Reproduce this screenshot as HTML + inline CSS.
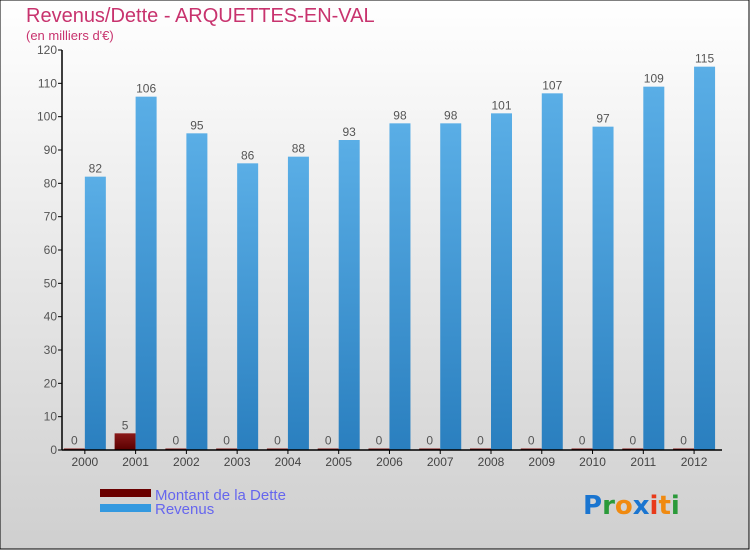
<!DOCTYPE html>
<html><head><meta charset="utf-8">
<style>
html,body{margin:0;padding:0}
body{width:750px;height:550px;overflow:hidden;font-family:"Liberation Sans","DejaVu Sans",sans-serif}
</style></head>
<body>
<svg id="chart" width="750" height="550" xmlns="http://www.w3.org/2000/svg">
<defs>
<linearGradient id="bg" x1="0" y1="0" x2="0" y2="1">
<stop offset="0" stop-color="#ffffff"/><stop offset="1" stop-color="#cfcfcf"/>
</linearGradient>
<linearGradient id="blue" x1="0" y1="0" x2="0" y2="1">
<stop offset="0" stop-color="#5aaee6"/><stop offset="1" stop-color="#2a7fbf"/>
</linearGradient>
<linearGradient id="red" x1="0" y1="0" x2="0" y2="1">
<stop offset="0" stop-color="#8a1a1a"/><stop offset="1" stop-color="#5a0000"/>
</linearGradient>
</defs>
<rect x="0" y="0" width="749" height="549" fill="url(#bg)" stroke="#000" stroke-width="1"/>
<text x="26" y="22" font-size="20" fill="#c8336e">Revenus/Dette - ARQUETTES-EN-VAL</text>
<text x="26" y="40" font-size="13" fill="#c8336e">(en milliers d'€)</text>
<g id="grid"></g>
<g id="bars"></g>
<g id="axes"></g>
<rect x="100" y="489" width="51" height="8" fill="#6a0000"/>
<text x="155" y="500" font-size="15" fill="#6666ee">Montant de la Dette</text>
<rect x="100" y="504" width="51" height="8" fill="#3399e0"/>
<text x="155" y="514" font-size="15" fill="#6666ee">Revenus</text>
<text x="583" y="514" font-size="26" font-family="DejaVu Sans, sans-serif" font-weight="bold"><tspan fill="#1a75d0">P</tspan><tspan fill="#2a9a3a">r</tspan><tspan fill="#f08a10">o</tspan><tspan fill="#1a75d0">x</tspan><tspan fill="#e83a1a">i</tspan><tspan fill="#f08a10">t</tspan><tspan fill="#2a9a3a">i</tspan></text>
</svg>
<script>
const years=["2000","2001","2002","2003","2004","2005","2006","2007","2008","2009","2010","2011","2012"];
const revenus=[82,106,95,86,88,93,98,98,101,107,97,109,115];
const dette=[0,5,0,0,0,0,0,0,0,0,0,0,0];
const yTicks=[0,10,20,30,40,50,60,70,80,90,100,110,120];
const NS="http://www.w3.org/2000/svg";
const x0=62,x1=722,yBase=450,yTop=50,yMax=120;
const band=(x1-x0)/years.length;
function y(v){return yBase-(v/yMax)*(yBase-yTop);}
function xc(i){return x0+band*(i+0.45);}
function mk(tag,attrs,parent,txt){const e=document.createElementNS(NS,tag);for(const k in attrs)e.setAttribute(k,attrs[k]);if(txt!==undefined)e.textContent=txt;document.getElementById(parent).appendChild(e);return e;}
const bw=21;
years.forEach((yr,i)=>{
 const c=xc(i);
 const dh=Math.max(yBase-y(dette[i]),1.5);
 const d=mk('rect',{x:c-bw,y:yBase-dh,width:bw,height:dh,fill:'url(#red)'},'bars');
 
 
 const dl=mk('text',{x:c-bw/2,y:yBase-dh-4,'font-size':12,fill:'#555','text-anchor':'middle'},'bars',String(dette[i]));
 
 
 const r=mk('rect',{x:c,y:y(revenus[i]),width:bw,height:yBase-y(revenus[i]),fill:'url(#blue)'},'bars');
 
 
 const rl=mk('text',{x:c+bw/2,y:y(revenus[i])-4,'font-size':12,fill:'#555','text-anchor':'middle'},'bars',String(revenus[i]));
 
 
 const xl=mk('text',{x:c,y:466,'font-size':12,fill:'#444','text-anchor':'middle'},'axes',yr);
 
 
 mk('line',{x1:c,y1:yBase,x2:c,y2:yBase+4,stroke:'#000'},'axes');
});
yTicks.forEach(t=>{
 mk('line',{x1:x0-4,y1:y(t),x2:x0,y2:y(t),stroke:'#000'},'axes');
 const tl=mk('text',{x:x0-5,y:y(t)+4,'font-size':12,fill:'#555','text-anchor':'end'},'axes',String(t));
 
 
});
const ya=mk('line',{x1:x0,y1:yTop,x2:x0,y2:yBase,stroke:'#000','stroke-width':1.5},'axes');


const xa=mk('line',{x1:x0,y1:yBase,x2:x1,y2:yBase,stroke:'#000','stroke-width':1.5},'axes');


</script>
</body></html>
